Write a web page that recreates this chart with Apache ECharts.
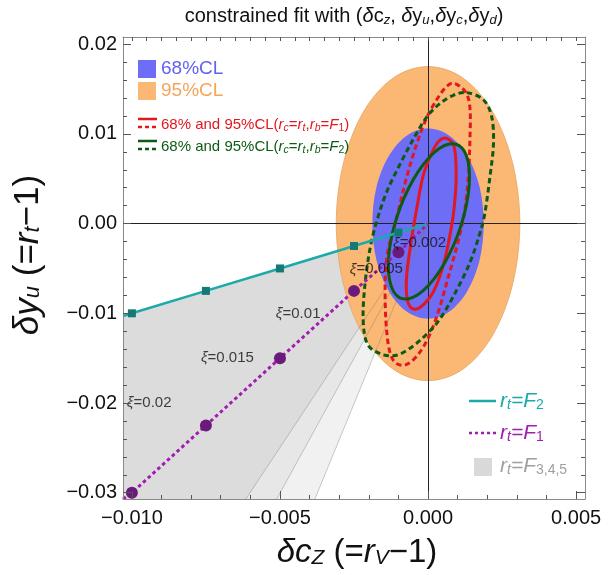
<!DOCTYPE html>
<html>
<head>
<meta charset="utf-8">
<script src="https://cdn.jsdelivr.net/npm/echarts@6.0.0/dist/echarts.min.js"></script>
<style>
  html, body { margin: 0; padding: 0; background: #fff; }
  #chart { width: 608px; height: 575px; }
</style>
</head>
<body>
<div id="chart"></div>
<script>
// axis ranges and ticks
var xRange = [-0.0103, 0.0053]
var yRange = [-0.0307, 0.0208]
var xMajor = [-0.01, -0.005, 0, 0.005]
var xTickLabels = ['\u22120.010', '\u22120.005', '0.000', '0.005']
var xMinor = [-0.010, -0.009, -0.008, -0.007, -0.006, -0.005, -0.004, -0.003, -0.002, -0.001, 0, 0.001, 0.002, 0.003, 0.004, 0.005]
var xTopTicks = [-0.010, -0.0095, -0.009, -0.0085, -0.008, -0.0075, -0.007, -0.0065, -0.006, -0.0055, -0.005, -0.0045, -0.004, -0.0035, -0.003, -0.0025, -0.002, -0.0015, -0.001, -0.0005, 0, 0.0005, 0.001, 0.0015, 0.002, 0.0025, 0.003, 0.0035, 0.004, 0.0045, 0.005]
var yMajor = [-0.03, -0.02, -0.01, 0, 0.01, 0.02]
var yTickLabels = ['\u22120.03', '\u22120.02', '\u22120.01', '0.00', '0.01', '0.02']
var yMinor = [-0.030, -0.028, -0.026, -0.024, -0.022, -0.020, -0.018, -0.016, -0.014, -0.012, -0.010, -0.008, -0.006, -0.004, -0.002, 0, 0.002, 0.004, 0.006, 0.008, 0.010, 0.012, 0.014, 0.016, 0.018, 0.020]

// confidence regions (points read around each contour)
var orange95 = [[0.0031, 0], [0.00286, 0.0067], [0.00219, 0.0124], [0.00119, 0.0162], [0, 0.0175], [-0.00119, 0.0162], [-0.00219, 0.0124], [-0.00286, 0.0067], [-0.0031, 0], [-0.00286, -0.0067], [-0.00219, -0.0124], [-0.00119, -0.0162], [0, -0.0175], [0.00119, -0.0162], [0.00219, -0.0124], [0.00286, -0.0067]]
var blue68 = [[0.00188, 0], [0.00174, 0.0041], [0.00133, 0.0075], [0.00072, 0.0098], [0, 0.0106], [-0.00072, 0.0098], [-0.00133, 0.0075], [-0.00174, 0.0041], [-0.00188, 0], [-0.00174, -0.0041], [-0.00133, -0.0075], [-0.00072, -0.0098], [0, -0.0106], [0.00072, -0.0098], [0.00133, -0.0075], [0.00174, -0.0041]]
var f1_68 = [[0.00063, 0.0095], [0.00088, 0.0086], [0.00095, 0.0054], [0.00088, 0.0017], [0.00074, -0.0013], [0.00052, -0.0046], [0.00018, -0.0076], [-0.00025, -0.0093], [-0.00055, -0.00945], [-0.00071, -0.0083], [-0.00072, -0.0057], [-0.00057, -0.0020], [-0.00038, 0.0017], [-0.00016, 0.0054], [0.00016, 0.0081], [0.00040, 0.0093]]
var f2_68 = [[0.00140, 0.00521], [0.00122, 0.00809], [0.00072, 0.00887], [0.00003, 0.00734], [-0.00066, 0.00391], [-0.00116, -0.00051], [-0.00134, -0.00471], [-0.00116, -0.00759], [-0.00066, -0.00837], [0.00003, -0.00684], [0.00072, -0.00341], [0.00122, 0.00101]]
var f1_95 = [[0.00091, 0.0156], [0.00128, 0.0146], [0.00142, 0.0127], [0.00141, 0.0089], [0.00136, 0.0052], [0.00124, 0.0015], [0.00104, -0.0017], [0.00069, -0.0059], [0.00030, -0.0103], [-0.00008, -0.0133], [-0.00050, -0.0152], [-0.00089, -0.0158], [-0.00123, -0.0149], [-0.00140, -0.0119], [-0.00145, -0.0071], [-0.00137, -0.0033], [-0.00108, 0.0004], [-0.00072, 0.0052], [-0.00038, 0.0089], [-0.00006, 0.0117], [0.00029, 0.0138], [0.00063, 0.0153]]
var f2_95 = [[0.00131, 0.0146], [0.00187, 0.0138], [0.00215, 0.0119], [0.00221, 0.0089], [0.00209, 0.0052], [0.00191, 0.0010], [0.00172, -0.0014], [0.00142, -0.0043], [0.00097, -0.0074], [0.00041, -0.0106], [-0.00010, -0.0125], [-0.00061, -0.0139], [-0.00111, -0.0147], [-0.00162, -0.0145], [-0.00205, -0.0134], [-0.00219, -0.0108], [-0.00214, -0.0071], [-0.00196, -0.0028], [-0.00172, 0.0004], [-0.00140, 0.0035], [-0.00095, 0.0066], [-0.00050, 0.0094], [-0.00004, 0.0119], [0.00041, 0.0134], [0.00085, 0.0143]]

// r_t = F_{3,4,5} wedges: apex, upper edge at the frame, lower edge x at the bottom frame
var wedgeApex = [0, 0]
var wedgeTopLeft = [-0.0103, -0.0103]
var wedgeBottomLeft = [-0.0103, -0.0307]
var wedgeBottomX = [-0.00382, -0.00511, -0.00615]
var wedgeColors = ['#F1F1F1', '#E7E7E7', '#DCDCDC']

// xi points along r_t = F_2 and r_t = F_1
var xiX = [-0.01, -0.0075, -0.005, -0.0025, -0.001]
var tealY = [-0.01, -0.0075, -0.005, -0.0025, -0.001]
var purpleY = [-0.030, -0.0225, -0.015, -0.0075, -0.0032]
var tealStart = [-0.0103, -0.0103]
var purpleStart = [-0.0103, -0.0307]
var lineEnd = [0, 0]

var xiText = ['0.02', '0.015', '0.01', '0.005', '0.002']
var xiLabelX = [-0.01017, -0.00767, -0.00514, -0.00264, -0.00118]
var xiLabelY = [-0.0200, -0.0150, -0.0101, -0.0051, -0.0022]

var FONT = '"Liberation Sans", Arial, sans-serif'
var RED = '#E3171F', GREEN = '#0D5A14', TEAL = '#1AAAAA', PURPLE = '#A11DB0'
var BLUE = '#6D6DF6', ORANGE = '#FBB874'

function zip(xs, ys) {
  return xs.map(function (x, i) { return [x, ys[i]] })
}

// rich text styles with subscripts (shift = padding / 2)
function rich(size, color, subSize, shift) {
  var lh = Math.round(size * 1.3)
  var slh = lh - shift * 2
  return {
    n: { fontSize: size, fontFamily: FONT, color: color, fill: color, lineHeight: lh },
    i: { fontSize: size, fontFamily: FONT, fontStyle: 'italic', color: color, fill: color, lineHeight: lh },
    s: { fontSize: subSize, fontFamily: FONT, fontStyle: 'italic', color: color, fill: color, lineHeight: slh, padding: [shift * 2, 0, 0, 0] },
    u: { fontSize: subSize, fontFamily: FONT, color: color, fill: color, lineHeight: slh, padding: [shift * 2, 0, 0, 0] }
  }
}

function label(text, x, y, size, color, subSize, shift, align, rotation) {
  return {
    type: 'text', x: x, y: y, rotation: rotation || 0, z: 100,
    style: {
      text: text, rich: rich(size, color, subSize, shift), fill: color,
      font: size + 'px ' + FONT,
      align: align || 'left', textAlign: align || 'left',
      verticalAlign: 'middle', textVerticalAlign: 'middle'
    }
  }
}

// smooth closed curve through the given pixel points (Catmull-Rom as cubic Beziers)
function closedPath(p) {
  var n = p.length
  var d = 'M' + p[0][0] + ' ' + p[0][1]
  for (var i = 0; i < n; i++) {
    var p0 = p[(i - 1 + n) % n], p1 = p[i], p2 = p[(i + 1) % n], p3 = p[(i + 2) % n]
    d += ' C' + (p1[0] + (p2[0] - p0[0]) / 6) + ' ' + (p1[1] + (p2[1] - p0[1]) / 6) +
      ' ' + (p2[0] - (p3[0] - p1[0]) / 6) + ' ' + (p2[1] - (p3[1] - p1[1]) / 6) +
      ' ' + p2[0] + ' ' + p2[1]
  }
  return d + ' Z'
}

// closed contour drawn from its points
function contour(pts, style, z) {
  return {
    type: 'custom', z: z, clip: true, silent: true,
    data: pts,
    renderItem: function (params, api) {
      if (params.dataIndex !== 0) return null
      return {
        type: 'path',
        shape: { pathData: closedPath(pts.map(function (p) { return api.coord(p) })) },
        style: style
      }
    }
  }
}

function tickAxis(dim, position, ticks, len, labels, showLine) {
  var ax = {
    type: 'value', position: position, z: 10,
    min: dim === 'x' ? xRange[0] : yRange[0],
    max: dim === 'x' ? xRange[1] : yRange[1],
    splitLine: { show: false },
    axisLine: { show: !!showLine, onZero: false, lineStyle: { color: '#8a8a8a', width: 1 } },
    axisTick: { show: true, inside: true, length: len, customValues: ticks, lineStyle: { color: '#555', width: 1 } },
    axisLabel: { show: false }
  }
  if (labels) {
    ax.axisLabel = {
      show: true, customValues: ticks,
      margin: dim === 'x' ? 9 : 6,
      fontSize: 20, fontFamily: FONT, color: '#111',
      formatter: function (v) { return labels[ticks.indexOf(v)] }
    }
  }
  return ax
}

var chart = echarts.init(document.getElementById('chart'), null, { renderer: 'canvas' })

var series = []

// gray wedges, lightest (widest) first
series.push({
  type: 'custom', z: 1, clip: true, silent: true,
  data: [wedgeApex],
  renderItem: function (params, api) {
    var children = wedgeBottomX.map(function (bx, i) {
      return {
        type: 'polygon',
        shape: { points: [wedgeApex, wedgeTopLeft, wedgeBottomLeft, [bx, wedgeBottomLeft[1]]].map(function (p) { return api.coord(p) }) },
        style: { fill: wedgeColors[i], stroke: 'none' }
      }
    })
    return { type: 'group', children: children }
  }
})

series.push(contour(orange95, { fill: ORANGE, stroke: '#E3A566', lineWidth: 0.8 }, 2))
series.push(contour(blue68, { fill: BLUE, stroke: 'none' }, 3))

// wedge edges, faint over the regions
series.push({
  type: 'custom', z: 4, clip: true, silent: true,
  data: [wedgeApex],
  renderItem: function (params, api) {
    var children = wedgeBottomX.map(function (bx) {
      var a = api.coord(wedgeApex), b = api.coord([bx, wedgeBottomLeft[1]])
      return {
        type: 'line',
        shape: { x1: a[0], y1: a[1], x2: b[0], y2: b[1] },
        style: { stroke: '#777', lineWidth: 0.7, opacity: 0.55 }
      }
    })
    return { type: 'group', children: children }
  }
})

// axes through the origin
series.push({
  type: 'line', data: [], z: 5, silent: true,
  markLine: {
    silent: true, symbol: ['none', 'none'], label: { show: false },
    lineStyle: { color: '#222', width: 1, type: 'solid' },
    data: [{ xAxis: 0 }, { yAxis: 0 }]
  }
})

series.push(contour(f1_95, { fill: 'none', stroke: RED, lineWidth: 3, lineDash: [5.5, 3.5] }, 6))
series.push(contour(f2_95, { fill: 'none', stroke: GREEN, lineWidth: 3, lineDash: [5.5, 3.5] }, 6))
series.push(contour(f1_68, { fill: 'none', stroke: RED, lineWidth: 3 }, 6))
series.push(contour(f2_68, { fill: 'none', stroke: GREEN, lineWidth: 3 }, 6))

// r_t = F_2 (teal) and r_t = F_1 (purple)
series.push({
  type: 'line', z: 7, silent: true, showSymbol: false,
  data: [tealStart].concat(zip(xiX, tealY), [lineEnd]),
  lineStyle: { color: TEAL, width: 2.5 }
})
series.push({
  type: 'scatter', z: 8, silent: true, symbol: 'rect', symbolSize: 8,
  data: zip(xiX, tealY), itemStyle: { color: '#147A78', opacity: 1 }
})
series.push({
  type: 'line', z: 7, silent: true, showSymbol: false,
  data: [purpleStart].concat(zip(xiX, purpleY), [lineEnd]),
  lineStyle: { color: PURPLE, width: 3, type: [3.5, 3] }
})
series.push({
  type: 'scatter', z: 8, silent: true, symbol: 'circle', symbolSize: 12,
  data: zip(xiX, purpleY), itemStyle: { color: '#6A1A7A', opacity: 1 }
})

// xi labels
series.push({
  type: 'scatter', z: 9, silent: true, symbolSize: 0,
  data: zip(xiLabelX, xiLabelY),
  label: {
    show: true, position: 'right', distance: 0,
    formatter: function (p) { return '{i|\u03BE}{n|=' + xiText[p.dataIndex] + '}' },
    rich: rich(15, '#111', 11, 4)
  }
})

var option = {
  animation: false,
  backgroundColor: '#fff',
  grid: { left: 123, right: 23, top: 37, bottom: 76, show: false },
  xAxis: [
    tickAxis('x', 'bottom', xMajor, 8, xTickLabels, true),
    tickAxis('x', 'bottom', xMinor, 4),
    tickAxis('x', 'top', xTopTicks, 4, null, true)
  ],
  yAxis: [
    tickAxis('y', 'left', yMajor, 8, yTickLabels, true),
    tickAxis('y', 'left', yMinor, 4),
    tickAxis('y', 'right', yMajor, 8, null, true),
    tickAxis('y', 'right', yMinor, 4)
  ],
  series: series,
  graphic: [
    // title and axis names
    label('{n|constrained fit with (}{i|\u03B4}{n|c}{s|z}{n|, }{i|\u03B4}{n|y}{s|u}{n|,}{i|\u03B4}{n|y}{s|c}{n|,}{i|\u03B4}{n|y}{s|d}{n|)}', 344, 16, 20, '#111', 13, 4, 'center'),
    label('{i|\u03B4c}{s|Z}{n| (=}{i|r}{s|V}{n|\u22121)}', 357, 553, 33, '#111', 21, 5, 'center'),
    label('{i|\u03B4y}{s|u}{n| (=}{i|r}{s|t}{n|\u22121)}', 28, 255, 35, '#111', 22, 5, 'center', Math.PI / 2),

    // top-left legend
    { type: 'rect', z: 100, shape: { x: 138, y: 60, width: 18, height: 18 }, style: { fill: BLUE } },
    label('{n|68%CL}', 161, 69, 19, '#6262F2', 13, 4),
    { type: 'rect', z: 100, shape: { x: 138, y: 82, width: 18, height: 18 }, style: { fill: ORANGE } },
    label('{n|95%CL}', 161, 91, 19, '#F5A55A', 13, 4),
    { type: 'line', z: 100, shape: { x1: 138, y1: 119, x2: 157, y2: 119 }, style: { stroke: RED, lineWidth: 2.5 } },
    { type: 'line', z: 100, shape: { x1: 138, y1: 127, x2: 157, y2: 127 }, style: { stroke: RED, lineWidth: 2.5, lineDash: [4, 3] } },
    label('{n|68% and 95%CL(}{i|r}{s|c}{n|=}{i|r}{s|t}{n|,}{i|r}{s|b}{n|=}{i|F}{u|1}{n|)}', 161, 125, 15, RED, 10.5, 3.5),
    { type: 'line', z: 100, shape: { x1: 138, y1: 141, x2: 157, y2: 141 }, style: { stroke: GREEN, lineWidth: 2.5 } },
    { type: 'line', z: 100, shape: { x1: 138, y1: 149, x2: 157, y2: 149 }, style: { stroke: GREEN, lineWidth: 2.5, lineDash: [4, 3] } },
    label('{n|68% and 95%CL(}{i|r}{s|c}{n|=}{i|r}{s|t}{n|,}{i|r}{s|b}{n|=}{i|F}{u|2}{n|)}', 161, 147, 15, GREEN, 10.5, 3.5),

    // bottom-right legend
    { type: 'line', z: 100, shape: { x1: 469, y1: 401, x2: 496, y2: 401 }, style: { stroke: TEAL, lineWidth: 2.5 } },
    label('{i|r}{s|t}{i|=F}{u|2}', 500, 401, 21, TEAL, 14, 4),
    { type: 'line', z: 100, shape: { x1: 469, y1: 433, x2: 496, y2: 433 }, style: { stroke: PURPLE, lineWidth: 2.5, lineDash: [3, 3] } },
    label('{i|r}{s|t}{i|=F}{u|1}', 500, 433, 21, PURPLE, 14, 4),
    { type: 'rect', z: 100, shape: { x: 474, y: 458, width: 18, height: 18 }, style: { fill: '#D9D9D9' } },
    label('{i|r}{s|t}{i|=F}{u|3,4,5}', 500, 466, 21, '#A0A0A0', 14, 4)
  ]
}

chart.setOption(option)
</script>
</body>
</html>
